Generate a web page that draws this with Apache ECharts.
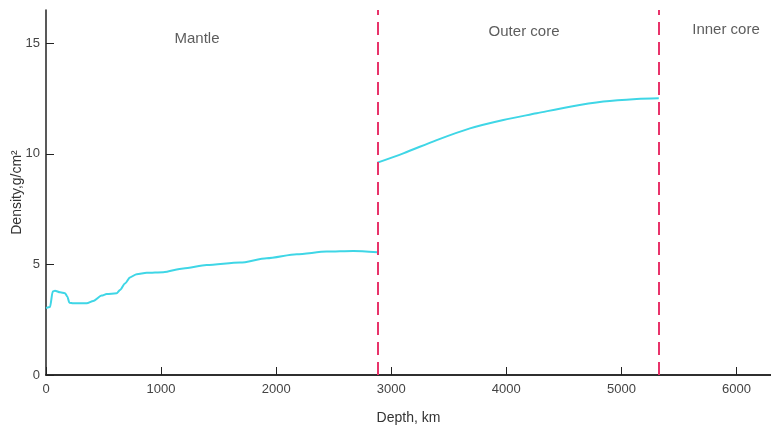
<!DOCTYPE html>
<html>
<head>
<meta charset="utf-8">
<script src="https://cdn.jsdelivr.net/npm/echarts@6/dist/echarts.min.js"></script>
<style>
  html, body { margin: 0; padding: 0; background: #fff; }
  #chart { width: 771px; height: 429px; }
</style>
</head>
<body>
<div id="chart"></div>
<script>
// depth in km, density in g/cm3
const mantleDepth = [0, 35, 58, 78, 122, 165, 185, 203, 237, 354, 411, 484, 527, 614, 643, 686, 730, 788, 875, 1019, 1193, 1396, 1686, 1918, 2179, 2439, 2670, 2880];
const mantleDensity = [3.03, 3.07, 3.77, 3.81, 3.74, 3.70, 3.55, 3.27, 3.24, 3.24, 3.35, 3.59, 3.66, 3.69, 3.84, 4.14, 4.41, 4.56, 4.62, 4.65, 4.82, 4.97, 5.08, 5.28, 5.46, 5.58, 5.61, 5.55];
const coreDepth = [2880, 3105, 3395, 3684, 3974, 4264, 4553, 4843, 5133, 5325];
const coreDensity = [9.60, 10.02, 10.62, 11.15, 11.53, 11.83, 12.13, 12.36, 12.48, 12.51];
const boundaries = [2880, 5325];
const xTicks = [0, 1000, 2000, 3000, 4000, 5000, 6000];
const yTicks = [0, 5, 10, 15];
const regionNames = ['Mantle', 'Outer core', 'Inner core'];
const regionX = [1312, 4154, 5909];
const regionY = [15.2, 15.5, 15.6];

const zip = (a, b) => a.map((v, i) => [v, b[i]]);
const font = 'Liberation Sans';

const chart = echarts.init(document.getElementById('chart'));

const option = {
  backgroundColor: '#ffffff',
  animation: false,
  grid: { left: 46, right: 0, top: 10, bottom: 54, outerBoundsMode: 'none', containLabel: false },
  xAxis: [{
    type: 'value',
    min: 0,
    max: 6300,
    name: 'Depth, km',
    nameLocation: 'middle',
    nameGap: 36,
    nameMoveOverlap: false,
    nameTextStyle: { fontFamily: font, fontSize: 14, color: '#333' },
    axisLine: { show: true, onZero: false, lineStyle: { color: '#222', width: 1.5 } },
    axisTick: { show: true, inside: true, length: 8, customValues: xTicks, lineStyle: { color: '#222' } },
    axisLabel: { customValues: xTicks, formatter: v => String(v), fontFamily: font, fontSize: 13, color: '#444', margin: 8 },
    splitLine: { show: false }
  }, {
    type: 'value',
    position: 'top',
    min: 0,
    max: 6300,
    axisLine: { show: true, lineStyle: { color: '#222', width: 1.5 } },
    axisTick: { show: false },
    axisLabel: { show: false },
    splitLine: { show: false }
  }],
  yAxis: {
    type: 'value',
    min: 0,
    max: 16.5,
    name: 'Density,g/cm²',
    nameLocation: 'middle',
    nameGap: 22,
    nameMoveOverlap: false,
    nameTextStyle: { fontFamily: font, fontSize: 14, color: '#333' },
    axisLine: { show: true, lineStyle: { color: '#222', width: 1.5 } },
    axisTick: { show: true, inside: true, length: 8, customValues: yTicks, lineStyle: { color: '#222' } },
    axisLabel: { customValues: yTicks, formatter: v => String(v), fontFamily: font, fontSize: 13, color: '#444', margin: 6 },
    splitLine: { show: false }
  },
  series: [{
    name: 'Mantle',
    type: 'line',
    data: zip(mantleDepth, mantleDensity),
    showSymbol: false,
    smooth: 0.25,
    smoothMonotone: 'x',
    lineStyle: { color: '#3fd6e6', width: 2 },
    markLine: {
      silent: true,
      symbol: 'none',
      label: { show: false },
      lineStyle: { color: '#e8336a', type: [13, 7], width: 2 },
      data: boundaries.map(b => ({ xAxis: b }))
    }
  }, {
    name: 'Outer core',
    type: 'line',
    data: zip(coreDepth, coreDensity),
    showSymbol: false,
    smooth: 0.3,
    lineStyle: { color: '#3fd6e6', width: 2 }
  }, {
    name: 'labels',
    type: 'scatter',
    symbolSize: 0,
    data: regionNames.map((n, i) => ({ name: n, value: [regionX[i], regionY[i]] })),
    label: {
      show: true,
      position: 'inside',
      formatter: p => p.name,
      fontFamily: font,
      fontSize: 15,
      color: '#333'
    }
  }]
};

chart.setOption(option);
</script>
</body>
</html>
